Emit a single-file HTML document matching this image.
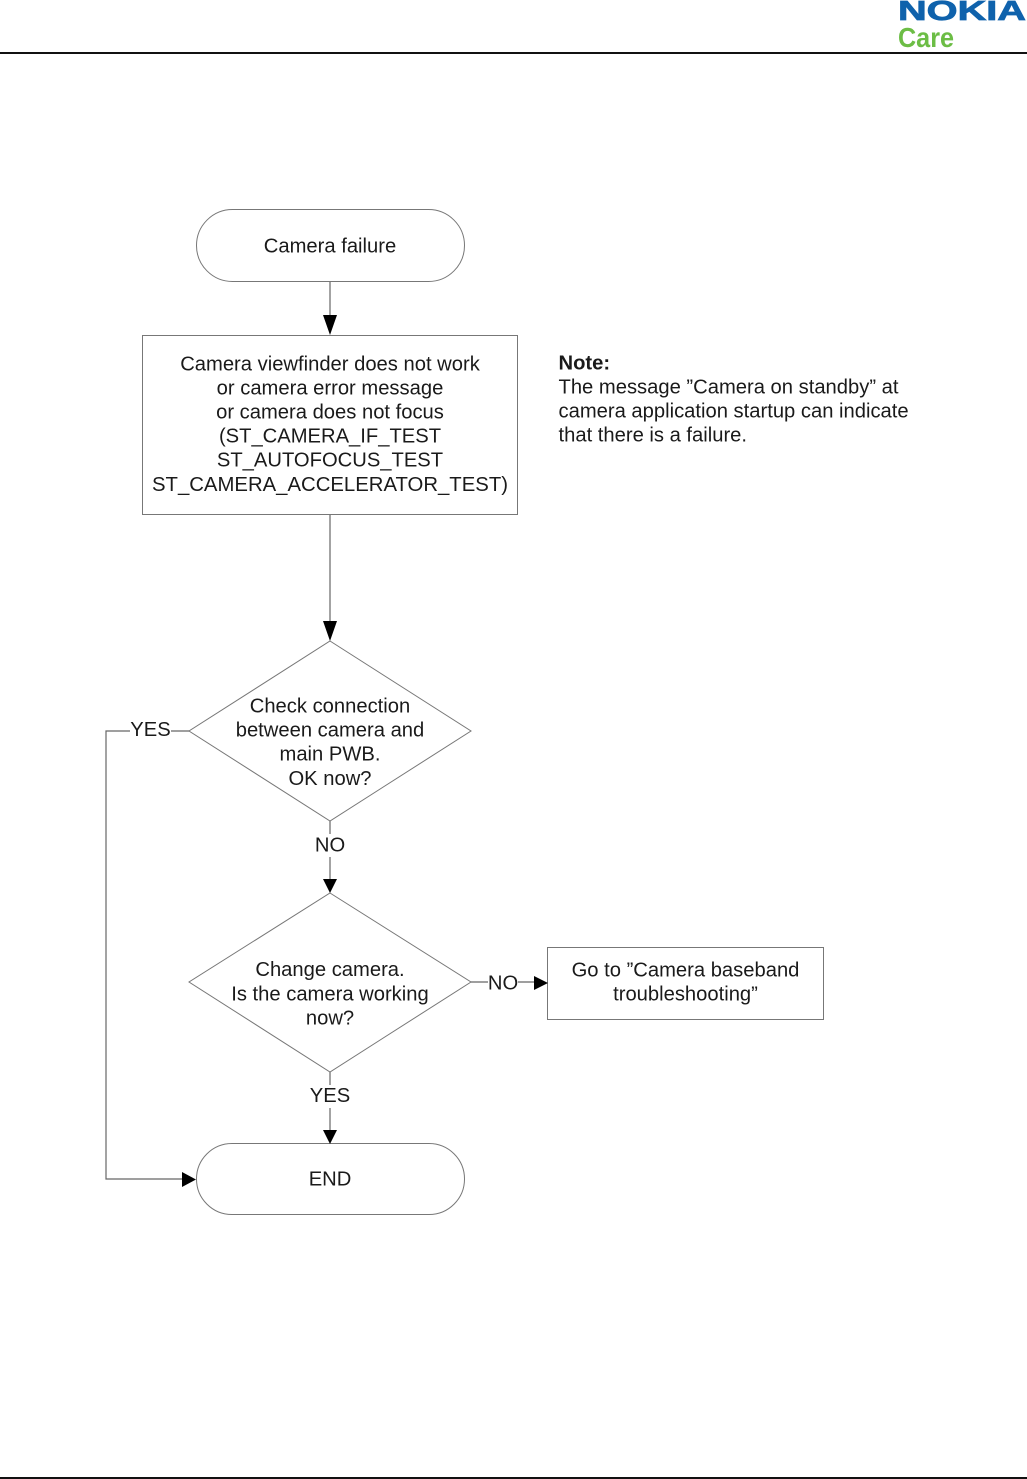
<!DOCTYPE html>
<html>
<head>
<meta charset="utf-8">
<style>
html,body{margin:0;padding:0;background:#fff}
svg{display:block}
text{font-family:"Liberation Sans",sans-serif;font-size:20.2px;fill:#1a1a1a}
.c{text-anchor:middle}
</style>
</head>
<body>
<svg width="1027" height="1479" viewBox="0 0 1027 1479" xmlns="http://www.w3.org/2000/svg">
<rect x="0" y="52" width="1027" height="2" fill="#111"/>
<rect x="0" y="1477" width="1027" height="2" fill="#111"/>

<text x="898" y="20" style="font-size:28px;font-weight:bold;fill:#0f62ac;stroke:#0f62ac;stroke-width:.8" textLength="128" lengthAdjust="spacingAndGlyphs">NOKIA</text>
<text x="898" y="47" style="font-size:28px;font-weight:bold;fill:#6cbd45" textLength="56" lengthAdjust="spacingAndGlyphs">Care</text>

<g fill="#fff" stroke="#777" stroke-width="1">
<rect x="196.500" y="209.500" width="268" height="72" rx="36" ry="36"/>
<rect x="142.500" y="335.500" width="375" height="179"/>
<polygon points="330,641 471,731 330,821 189,731"/>
<polygon points="330,893 471,982 330,1072 189,982"/>
<rect x="547.500" y="947.500" width="276" height="72"/>
<rect x="196.500" y="1143.500" width="268" height="71" rx="35.500" ry="35.500"/>
</g>

<g fill="none" stroke="#666" stroke-width="1.200">
<path d="M330 282V318"/>
<path d="M330 515V622"/>
<path d="M330 821V834"/>
<path d="M330 857V880"/>
<path d="M330 1072V1085"/>
<path d="M330 1108V1131"/>
<path d="M471 982H488"/>
<path d="M518 982H535"/>
<path d="M189 731H171"/>
<path d="M130 731H106V1179H183"/>
</g>
<g fill="#000">
<polygon points="323,315 337,315 330,335"/>
<polygon points="323,621 337,621 330,641"/>
<polygon points="323,879 337,879 330,893"/>
<polygon points="323,1130 337,1130 330,1144"/>
<polygon points="534,976 534,990 548,983"/>
<polygon points="182,1172 182,1187 196,1179.500"/>
</g>

<text class="c" x="330" y="252.500">Camera failure</text>

<text class="c" x="330" y="370.500">Camera viewfinder does not work</text>
<text class="c" x="330" y="394.500">or camera error message</text>
<text class="c" x="330" y="418.500">or camera does not focus</text>
<text class="c" x="330" y="442.500">(ST_CAMERA_IF_TEST</text>
<text class="c" x="330" y="466.500">ST_AUTOFOCUS_TEST</text>
<text class="c" x="330" y="491" textLength="356" lengthAdjust="spacingAndGlyphs">ST_CAMERA_ACCELERATOR_TEST)</text>

<text x="558.500" y="369.500" style="font-weight:bold">Note:</text>
<text x="558.500" y="393.500">The message ”Camera on standby” at</text>
<text x="558.500" y="417.500">camera application startup can indicate</text>
<text x="558.500" y="441.500">that there is a failure.</text>

<text class="c" x="330" y="712.500">Check connection</text>
<text class="c" x="330" y="736.500">between camera and</text>
<text class="c" x="330" y="760.500">main PWB.</text>
<text class="c" x="330" y="785">OK now?</text>

<text class="c" x="150.500" y="736">YES</text>
<text class="c" x="330" y="851.500">NO</text>

<text class="c" x="330" y="976">Change camera.</text>
<text class="c" x="330" y="1000.500">Is the camera working</text>
<text class="c" x="330" y="1024.500">now?</text>

<text class="c" x="503" y="989.500">NO</text>
<text class="c" x="685.500" y="976.500">Go to ”Camera baseband</text>
<text class="c" x="685.500" y="1000.500">troubleshooting”</text>

<text class="c" x="330" y="1102">YES</text>
<text class="c" x="330" y="1185.500">END</text>
</svg>
</body>
</html>
